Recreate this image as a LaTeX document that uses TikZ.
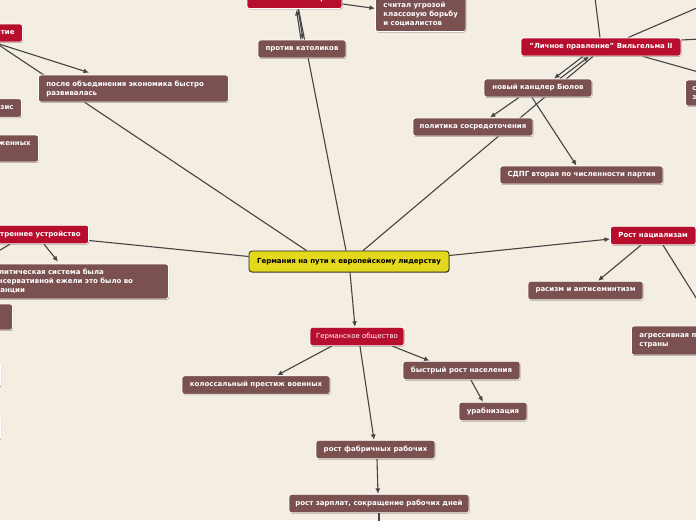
\documentclass[tikz,border=0pt]{standalone}
\usepackage{fontspec}
\setmainfont{DejaVu Sans}
\usetikzlibrary{arrows.meta,shadows}
\definecolor{bgc}{RGB}{243,237,226}
\definecolor{brownc}{RGB}{122,80,80}
\definecolor{redc}{RGB}{182,14,44}
\definecolor{yellowc}{RGB}{228,216,28}
\definecolor{linec}{RGB}{68,68,68}
\pgfdeclarelayer{bglayer}
\pgfdeclarelayer{edgelayer}
\pgfsetlayers{bglayer,edgelayer,main}
\tikzset{
  mmbox/.style={rectangle, rounded corners=2.5pt, draw=white, line width=0.8pt,
    text=white, font=\fontsize{7}{9}\selectfont\bfseries, inner xsep=8pt, inner ysep=0pt,
    minimum height=18.5pt,
    drop shadow={shadow xshift=0.6pt, shadow yshift=-0.9pt, opacity=0.35, fill=black}},
  mmsub/.style={mmbox, fill=brownc},
  mmtopic/.style={mmbox, fill=redc},
  mmcentral/.style={mmbox, fill=yellowc, draw=black!85, text=black, rounded corners=3pt},
  conn/.style={draw=linec, line width=1.1pt},
  arr/.style={conn, -{Latex[length=5.5pt,width=5pt]}}
}
\begin{document}
\begin{tikzpicture}[x=1pt,y=-1pt]
\useasboundingbox (0,0) rectangle (696,520);
\begin{pgfonlayer}{bglayer}
\fill[bgc] (0,0) rectangle (696,520);
\end{pgfonlayer}
\clip (0,0) rectangle (696,520);

% central
\node[mmcentral, minimum width=200pt, minimum height=21pt, inner xsep=4pt] (central) at (349,261.5) {Германия на пути к европейскому лидерству};

% society branch
\node[mmtopic, minimum width=94pt, inner xsep=4pt, font=\fontsize{7}{9}\selectfont] (gesell) at (357,336.5) {Германское общество};
\node[mmsub, minimum width=117pt, inner xsep=4pt] (bevoelk) at (461.5,370.5) {быстрый рост населения};
\node[mmsub, minimum width=68pt, inner xsep=4pt] (urban) at (493,411.5) {урабнизация};
\node[mmsub, minimum width=148pt, inner xsep=4pt] (prestige) at (256,385) {колоссальный престиж военных};
\node[mmsub, minimum width=119pt, inner xsep=4pt] (fabrik) at (375.5,449.5) {рост фабричных рабочих};
\node[mmsub, minimum width=180pt, inner xsep=4pt] (lohn) at (379,503.5) {рост зарплат, сокращение рабочих дней};

% nationalism branch
\node[mmtopic, anchor=west] (national) at (610,235.5) {Рост нациализам};
\node[mmsub, minimum width=115pt, inner xsep=4pt] (rasizm) at (585.5,290.5) {расизм и антисеминтизм};
\node[mmsub, anchor=west, align=left, minimum height=29pt] (aggr) at (631,340.5) {агрессивная политика\\страны};

% internal structure branch
\node[mmtopic, anchor=east] (innen) at (89,234.5) {Внутреннее устройство};
\node[mmsub, anchor=west, text width=172pt, align=left, minimum height=35pt] (polit) at (-20,281.5) {Политическая система была\\консервативной ежели это было во\\Франции};
\node[mmsub, anchor=east, minimum width=40pt, minimum height=26pt] (leftA) at (13,317) {};
\node[mmsub, anchor=east, minimum width=40pt, minimum height=25pt] (leftB) at (1,374.5) {};
\node[mmsub, anchor=east, minimum width=40pt, minimum height=23pt] (leftC) at (1,428.5) {};

% economy branch
\node[mmtopic, anchor=east, minimum height=18pt] (razv) at (23,33) {Экономическое развитие};
\node[mmsub, anchor=west, text width=174pt, align=left, minimum height=27pt] (posle) at (38,88.5) {после объединения экономика быстро\\развивалась};
\node[mmsub, anchor=east] (krizis) at (22,108) {кризис};
\node[mmsub, anchor=east, align=left, minimum height=27pt] (vooruzh) at (39,148.5) {вооруженных\\~};

% Bismarck branch
\node[mmtopic, minimum width=95pt, inner xsep=4pt, minimum height=19pt] (bismarck) at (294.5,-1) {Политика Бисмарка};
\node[mmsub, anchor=south west, align=left, inner ysep=5pt] (schital) at (375,32) {считал угрозой\\классовую борьбу\\и социалистов};
\node[mmsub, minimum width=88pt, inner xsep=4pt, minimum height=18pt] (katol) at (302,49) {против католиков};

% Wilhelm branch
\node[mmtopic, minimum width=160pt, inner xsep=4pt, minimum height=18pt] (wilhelm) at (601,47) {"Личное правление" Вильгельма II};
\node[mmsub, anchor=west, align=left, minimum height=26pt, inner xsep=7pt] (rightbox) at (685,93) {социальные\\законы};
\node[mmsub, minimum width=108pt, inner xsep=4pt, minimum height=18pt] (buelow) at (538,88) {новый канцлер Бюлов};
\node[mmsub, minimum width=120pt, inner xsep=4pt, minimum height=18pt] (sosred) at (473,127) {политика сосредоточения};
\node[mmsub, minimum width=163pt, inner xsep=4pt, minimum height=18pt] (spd) at (581.5,175) {СДПГ вторая по численности партия};

% off-picture ends
\coordinate (wOffA) at (594,-10);
\coordinate (wOffB) at (720,-2);
\coordinate (wOffC) at (720,78);
\coordinate (wOffD) at (720,38);
\coordinate (iOff) at (-20,262);
\coordinate (nOff) at (720,336);
\coordinate (lOff) at (379,530);

\begin{pgfonlayer}{edgelayer}
\clip (0,0) rectangle (696,520);
\draw[conn] ([xshift=58pt]central.north west) -- ([xshift=-28pt]razv.south east);
\draw[arr] ([xshift=-29pt]razv.south east) -- ([xshift=51pt,yshift=2pt]posle.north west);
\draw[conn] ([xshift=-3pt]central.north) -- ([xshift=4pt]bismarck.south);
\draw[arr] ([xshift=-1pt]katol.north) -- ([xshift=2pt,yshift=-1pt]bismarck.south);
\draw[arr] ([xshift=3.5pt]bismarck.south) -- ([xshift=1pt]katol.north);
\draw[arr] ([yshift=-5pt]bismarck.east) -- ([yshift=6pt]schital.west);
\draw[conn] ([xshift=14pt]central.north) -- ([xshift=-8pt]wilhelm.south);
\draw[arr] ([xshift=22pt]buelow.north) -- ([xshift=-12pt]wilhelm.south);
\draw[arr] ([xshift=-18pt]wilhelm.south) -- ([xshift=16pt]buelow.north);
\draw[arr] ([xshift=-19pt]buelow.south) -- ([xshift=17pt]sosred.north);
\draw[arr] ([xshift=-6pt]buelow.south) -- ([xshift=-5pt]spd.north);
\draw[conn] ([xshift=-1pt]wilhelm.north) -- (wOffA);
\draw[conn] ([xshift=27pt]wilhelm.north) -- (wOffB);
\draw[conn] ([xshift=42pt]wilhelm.south) -- (wOffC);
\draw[conn] ([yshift=7pt]wilhelm.east) -- (wOffD);
\draw[conn] ([yshift=5pt]central.west) -- ([yshift=-6pt]innen.east);
\draw[arr] ([xshift=-45pt]innen.south east) -- ([xshift=78pt,yshift=2pt]polit.north west);
\draw[conn] ([xshift=-79pt]innen.south east) -- (iOff);
\draw[arr] ([yshift=6pt]central.east) -- ([yshift=-3.5pt]national.west);
\draw[arr] ([xshift=31pt]national.south west) -- ([xshift=12.5pt]rasizm.north);
\draw[conn] ([xshift=53pt]national.south west) -- (nOff);
\draw[arr] ([xshift=1pt]central.south) -- ([xshift=-2pt]gesell.north);
\draw[arr] ([xshift=22pt]gesell.south west) -- ([xshift=21pt]prestige.north);
\draw[arr] ([xshift=-12pt]gesell.south east) -- ([xshift=27pt]bevoelk.north west);
\draw[arr] ([xshift=3pt]gesell.south) -- ([xshift=-1.5pt]fabrik.north);
\draw[arr] ([xshift=9.5pt]bevoelk.south) -- ([xshift=-10pt]urban.north);
\draw[arr] ([xshift=1.5pt]fabrik.south) -- ([xshift=-1pt]lohn.north);
\draw[conn] (lohn.south) -- (lOff);
\end{pgfonlayer}
\end{tikzpicture}
\end{document}
